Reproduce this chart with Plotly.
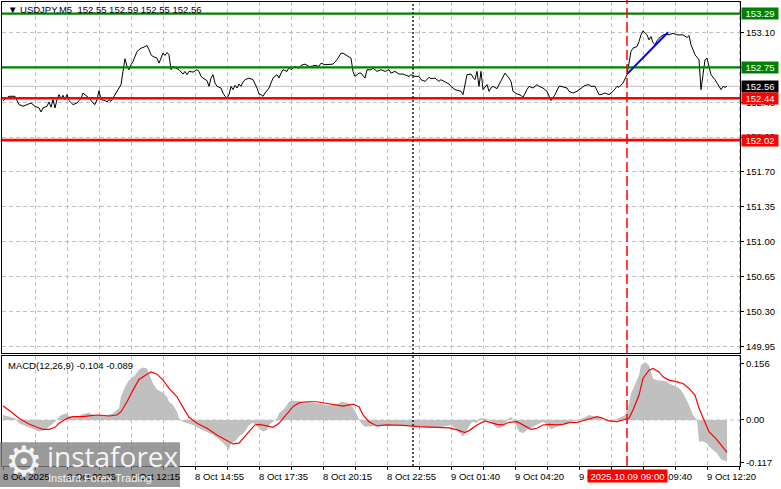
import plotly.graph_objects as go

W, H = 781, 489

# ---------------- data ----------------
price_bar = [0, 3, 6, 8, 10, 13, 14, 16, 18, 19, 20, 22, 23, 24, 25, 26, 27, 28, 29, 30, 31, 32, 33, 35, 37, 38, 39, 40,
             42, 43, 45, 46, 47, 48, 49, 51, 52, 53, 54, 56, 58, 59, 60, 61, 62, 63, 64, 65, 67, 68, 69, 70, 72, 73, 74,
             75, 77, 78, 79, 80, 81, 82, 83, 84, 85, 87, 88, 90, 91, 92, 93, 95, 97, 98, 99, 100, 102, 103, 104, 105,
             106, 107, 109, 110, 111, 112, 113, 114, 115, 116, 117, 118, 119, 120,
             121, 123, 125, 127, 128, 129, 130, 131, 133, 134, 135, 137, 138, 139, 140, 142, 143, 144, 146, 148, 149,
             151, 153, 154, 156, 158, 159, 161, 163, 165, 167, 169, 170, 172, 174, 175, 176, 178, 179, 181, 182, 184,
             185, 187, 189, 191, 193, 194, 196, 198, 200, 203, 204, 206, 208, 209, 211, 213, 214, 216, 218, 219, 221,
             223, 224, 226, 229, 230, 232, 234, 235, 236, 237, 238, 239, 240, 242, 243,
             244, 245, 247, 248, 251, 253, 254, 255, 257, 259, 260, 262, 263, 265, 267, 268, 270, 272, 273, 274, 276,
             278, 279, 282, 283, 285, 287, 289, 291, 293, 294, 296, 298, 299, 301, 303, 305, 307, 308, 310, 312, 313,
             314, 315, 317, 318, 319, 320, 322, 323, 324, 325, 326, 327, 328, 330, 332, 333, 335, 337, 338, 340, 342,
             343, 344, 346, 348, 349, 350, 351, 352, 353, 354, 356, 358, 359, 360, 361, 362]
price_close = [152.417, 152.46, 152.46, 152.377, 152.36, 152.383, 152.393, 152.36, 152.343, 152.303, 152.343, 152.36,
               152.403, 152.35, 152.427, 152.343, 152.427, 152.477, 152.437, 152.47, 152.427, 152.477, 152.417,
               152.377, 152.393, 152.417, 152.437, 152.493, 152.46, 152.443, 152.393, 152.377, 152.427, 152.517,
               152.427, 152.417, 152.403, 152.427, 152.41, 152.477, 152.543, 152.577, 152.71, 152.837, 152.76,
               152.727, 152.777, 152.81, 152.91, 152.927, 152.943, 152.95, 152.97, 152.927, 152.877, 152.86, 152.843,
               152.793, 152.843, 152.893, 152.87, 152.9, 152.877, 152.727, 152.76, 152.743, 152.727, 152.683, 152.71,
               152.677, 152.71, 152.703, 152.727, 152.71, 152.66, 152.643, 152.617, 152.56, 152.643, 152.677,
               152.593, 152.56, 152.543, 152.493, 152.46, 152.443, 152.477, 152.56, 152.527, 152.57, 152.543,
               152.583, 152.56, 152.603,
               152.627, 152.643, 152.627, 152.543, 152.483, 152.477, 152.46, 152.493, 152.543, 152.593, 152.643,
               152.677, 152.643, 152.693, 152.727, 152.71, 152.75, 152.727, 152.76, 152.743, 152.77, 152.783, 152.76,
               152.76, 152.77, 152.76, 152.793, 152.777, 152.783, 152.783, 152.827, 152.893, 152.893, 152.87, 152.843,
               152.71, 152.66, 152.693, 152.693, 152.643, 152.727, 152.727, 152.743, 152.71, 152.727, 152.71, 152.727,
               152.693, 152.71, 152.683, 152.683, 152.66, 152.677, 152.66, 152.66, 152.627, 152.61, 152.65, 152.637,
               152.643, 152.61, 152.627, 152.603, 152.583, 152.56, 152.527, 152.51, 152.477, 152.677, 152.683, 152.65,
               152.627, 152.71, 152.56, 152.71, 152.527, 152.577, 152.51,
               152.543, 152.56, 152.537, 152.577, 152.693, 152.643, 152.61, 152.51, 152.483, 152.47, 152.45, 152.527,
               152.56, 152.543, 152.577, 152.56, 152.543, 152.51, 152.46, 152.417, 152.477, 152.56, 152.56, 152.543,
               152.51, 152.493, 152.51, 152.543, 152.57, 152.577, 152.56, 152.56, 152.477, 152.477, 152.493, 152.477,
               152.51, 152.56, 152.55, 152.593, 152.677, 152.793, 152.91, 152.943, 152.96, 153.01, 153.077, 153.117,
               153.077, 153.027, 153.06, 153.0, 152.977, 153.017, 153.043, 153.077, 153.083, 153.077, 153.093,
               153.077, 153.077, 153.077, 153.05, 153.07, 152.977, 152.877, 152.827, 152.527, 152.677, 152.827,
               152.843, 152.743, 152.677, 152.627, 152.56, 152.527, 152.56, 152.55, 152.56]

macd_bar = [0, 6, 8, 12, 15, 18, 20, 22, 24, 26, 28, 29, 32, 33, 37, 40, 43, 45, 48, 52, 55, 58, 59, 61, 63, 66, 68,
            70, 72, 73, 75, 77, 78, 80, 82, 83, 85, 87, 88, 90, 92, 95, 98, 102, 105, 108, 111, 113, 114, 116, 118,
            121, 123, 125, 127, 128, 130, 132, 133, 135, 137, 138, 140, 142, 143, 145, 148, 152, 155, 158, 162, 165,
            168, 169, 172, 174, 176, 178, 179, 181, 184, 187, 194, 200, 207, 214, 220, 224, 226, 228, 230, 232, 234,
            235, 237, 238, 241, 244, 246, 248, 250, 253, 254, 256, 258, 260, 263, 265, 268, 270, 272, 274, 277, 279,
            283, 285, 288, 291, 293, 297, 300, 303, 305, 308, 311, 313, 314, 316, 318, 319, 321, 323, 324, 325, 327,
            328, 330, 332, 333, 335, 337, 339, 341, 343, 345, 347, 348, 350, 352, 353, 355, 357, 359, 362]
macd_hist = [0.0137, 0.0046, -0.0091, -0.0183, -0.0256, -0.032, -0.0292, -0.0228, -0.0137, -0.0046, 0.0073, 0.0137,
             0.0183, 0.011, 0.0091, 0.0164, 0.0201, 0.0137, 0.0137, 0.0137, 0.0183, 0.032, 0.0639, 0.0913, 0.1096,
             0.1233, 0.1388, 0.1443, 0.1416, 0.1279, 0.1005, 0.084, 0.0804, 0.0749, 0.0639, 0.0502, 0.0411, 0.0228,
             0.0046, -0.0046, -0.0091, -0.0137, -0.0228, -0.032, -0.0411, -0.053, -0.0685, -0.0822, -0.0639,
             -0.0594, -0.0457, -0.032, -0.0137, -0.0073, -0.0183, -0.0228, -0.032, -0.0274, -0.0137, -0.0046, 0.0046,
             0.0183, 0.0274, 0.0411, 0.0502, 0.053, 0.0521, 0.0502, 0.0475, 0.0457, 0.0411, 0.0411, 0.0457, 0.0502,
             0.0475, 0.0411, 0.0256, 0.0046, -0.0091, -0.0183, -0.0164, -0.0164, -0.0137, -0.0137, -0.0164, -0.0228,
             -0.0183, -0.0137, -0.0228, -0.0347, -0.0457, -0.0274, -0.0091, -0.0046, -0.0091, 0.0046, 0.0046,
             -0.0046, -0.0183, -0.0228, -0.0183, 0.0046, 0.0091, -0.0091, -0.032, -0.0365, -0.0228, -0.0183, -0.0091,
             -0.0046, -0.0137, -0.0256, -0.0183, -0.0119, -0.0091, -0.0046, 0.0, 0.0073, 0.0137, 0.0091, 0.0,
             -0.0046, 0.0, 0.0046, 0.0137, 0.0457, 0.0731, 0.0959, 0.1233, 0.1507, 0.1598, 0.1507, 0.1324, 0.1142,
             0.1096, 0.1096, 0.1078, 0.105, 0.1005, 0.0959, 0.0913, 0.0822, 0.0639, 0.0411, 0.0137, 0.0, -0.0594,
             -0.0594, -0.0639, -0.0731, -0.0822, -0.0913, -0.1078, -0.1142]

signal_bar = [0, 4, 8, 13, 17, 20, 23, 26, 28, 32, 35, 40, 45, 48, 53, 57, 59, 62, 65, 68, 72, 74, 77, 80, 83, 87,
              90, 93, 97, 102, 107, 112, 115, 118, 120, 123, 126, 128, 132, 135, 138, 142, 145, 148, 152, 157, 162,
              167, 170, 175, 178, 180, 183, 187, 192, 200, 208, 217, 223, 227, 231, 233, 237, 241, 243, 247, 250,
              253, 257, 260, 264, 267, 270, 273, 277, 280, 283, 287, 290, 293, 297, 300, 303, 307, 310, 313, 315,
              318, 320, 323, 325, 328, 330, 333, 337, 340, 343, 346, 348, 351, 353, 357, 360, 362]
signal_val = [0.0384, 0.0228, 0.0046, -0.011, -0.0201, -0.0256, -0.0256, -0.0201, -0.0091, 0.0046, 0.0091, 0.0091,
              0.0128, 0.0137, 0.011, 0.0137, 0.0228, 0.0502, 0.0822, 0.1114, 0.126, 0.1324, 0.126, 0.1096, 0.0868,
              0.0639, 0.0347, 0.0073, -0.0091, -0.0228, -0.0411, -0.0566, -0.0658, -0.0639, -0.0502, -0.032, -0.0137,
              -0.0119, -0.0164, -0.0201, -0.0091, 0.0183, 0.0365, 0.0475, 0.0502, 0.0502, 0.0457, 0.0393, 0.0384,
              0.0438, 0.0365, 0.0137, -0.0046, -0.0164, -0.0137, -0.0146, -0.0183, -0.0201, -0.0219, -0.0274,
              -0.0347, -0.0292, -0.0137, -0.0027, -0.0064, -0.0119, -0.0137, -0.0064, -0.0046, -0.0137, -0.0256,
              -0.0228, -0.0137, -0.0119, -0.0137, -0.0119, -0.0073, -0.0064, -0.0027, 0.0027, 0.0091, 0.0046,
              -0.0027, -0.0046, 0.0, 0.0046, 0.0274, 0.0685, 0.1142, 0.137, 0.1416, 0.1324, 0.1187, 0.1096, 0.105,
              0.1005, 0.0868, 0.0685, 0.032, -0.0046, -0.032, -0.0548, -0.0758, -0.089]

green_levels = [153.29, 152.75]
red_levels = [152.44, 152.02]
last_price = 152.56
trend_bar = [312, 332.5]
trend_price = [152.683, 153.103]
marker_bar = 312          # 2025.10.09 09:00
day_sep_bar = 205         # 9 Oct 00:00

time_tick_bars = [0, 32, 64, 96, 128, 160, 192, 224, 256, 288, 320, 352]
time_tick_labels = ["8 Oct 2025", "8 Oct 09:35", "8 Oct 12:15", "8 Oct 14:55", "8 Oct 17:35", "8 Oct 20:15",
                    "8 Oct 22:55", "9 Oct 01:40", "9 Oct 04:20", "9 Oct 07:00", "9 Oct 09:40", "9 Oct 12:20"]
grid_bars = list(range(0, 369, 16))
price_ticks = [149.95, 150.30, 150.65, 151.00, 151.35, 151.70, 152.05, 152.40, 152.75, 153.10]
macd_ticks = [0.156, 0.0, -0.117]
macd_ticktext = ["0.156", "0.00", "-0.117"]

header_text = "USDJPY,M5  152.55 152.59 152.55 152.56"
macd_text = "MACD(12,26,9) -0.104 -0.089"
marker_text = "2025.10.09 09:00"

# ---------------- layout geometry (pixels) ----------------
XL, XR = 2, 740
PT, PB = 2, 354
MT, MB = 357, 468
FONT = "Liberation Sans, Arial, sans-serif"
GRID_DASH = "4px,3px"


def fx(px):
    return px / W


def fy(px):
    return 1 - px / H


fig = go.Figure()

fig.add_trace(go.Scatter(x=macd_bar, y=macd_hist, xaxis="x2", yaxis="y2", mode="lines",
                         line=dict(width=0, color="#c0c0c0"), fill="tozeroy", fillcolor="#c0c0c0",
                         hoverinfo="skip"))
fig.add_trace(go.Scatter(x=signal_bar, y=signal_val, xaxis="x2", yaxis="y2", mode="lines",
                         line=dict(width=1.2, color="#ff0000"), hoverinfo="skip"))
fig.add_trace(go.Scatter(x=price_bar, y=price_close, xaxis="x", yaxis="y", mode="lines",
                         line=dict(width=1, color="#000000"), hoverinfo="skip"))

X0, X1 = -0.5, 368.5
shapes = []
# current price line
shapes.append(dict(type="line", xref="x", yref="y", x0=X0, x1=X1, y0=last_price, y1=last_price,
                   line=dict(color="#c0c0c0", width=1), layer="below"))
for lv in green_levels:
    shapes.append(dict(type="line", xref="x", yref="y", x0=X0, x1=X1, y0=lv, y1=lv,
                       line=dict(color="#008000", width=2.2), layer="above"))
for lv in red_levels:
    shapes.append(dict(type="line", xref="x", yref="y", x0=X0, x1=X1, y0=lv, y1=lv,
                       line=dict(color="#ff0000", width=2.6), layer="above"))
# trend line
shapes.append(dict(type="line", xref="x", yref="y", x0=trend_bar[0], x1=trend_bar[1],
                   y0=trend_price[0], y1=trend_price[1], line=dict(color="#0000ff", width=2), layer="above"))
# MACD zero level
shapes.append(dict(type="line", xref="x2", yref="y2", x0=X0, x1=X1, y0=0, y1=0,
                   line=dict(color="#c0c0c0", width=1, dash=GRID_DASH), layer="below"))
# vertical markers
shapes.append(dict(type="line", xref="x", yref="paper", x0=day_sep_bar, x1=day_sep_bar, y0=fy(MB), y1=fy(PT),
                   line=dict(color="#000000", width=1.3, dash="2px,2px"), layer="above"))
shapes.append(dict(type="line", xref="x", yref="paper", x0=marker_bar, x1=marker_bar, y0=fy(MB), y1=1,
                   line=dict(color="#ff0000", width=1.5, dash="10px,4px"), layer="above"))
# watermark box
shapes.append(dict(type="rect", xref="paper", yref="paper", x0=0, x1=fx(180), y0=0, y1=fy(444),
                   fillcolor="rgba(125,125,125,0.78)", line=dict(width=0), layer="above"))

annotations = []
# level price boxes
for lv, col in [(green_levels[0], "#008000"), (green_levels[1], "#008000"), (last_price, "#000000"),
                (red_levels[0], "#ff0000"), (red_levels[1], "#ff0000")]:
    annotations.append(dict(xref="paper", yref="y", x=fx(741), y=lv, xanchor="left", yanchor="middle",
                            text=f"{lv:.2f}", showarrow=False, bgcolor=col, width=36, height=11,
                            borderpad=0, font=dict(family=FONT, size=9.5, color="#ffffff")))
# time labels
for b, t in zip(time_tick_bars, time_tick_labels):
    annotations.append(dict(xref="x2", yref="paper", x=b, y=fy(478), xanchor="left", yanchor="middle",
                            text=t, showarrow=False, xshift=-2,
                            font=dict(family=FONT, size=9.5, color="#000000")))
annotations.append(dict(xref="x2", yref="paper", x=marker_bar, y=fy(478), xanchor="center", yanchor="middle",
                        text=marker_text, showarrow=False, bgcolor="#ff0000", width=79, height=12, borderpad=0,
                        font=dict(family=FONT, size=9.5, color="#ffffff")))
# header & indicator label
annotations.append(dict(xref="paper", yref="paper", x=fx(6), y=fy(10), xanchor="left", yanchor="middle",
                        text="▼ " + header_text, showarrow=False,
                        font=dict(family=FONT, size=9.5, color="#000000")))
annotations.append(dict(xref="paper", yref="paper", x=fx(6), y=fy(367), xanchor="left", yanchor="middle",
                        text=macd_text, showarrow=False,
                        font=dict(family=FONT, size=9.5, color="#000000")))
# watermark
annotations.append(dict(xref="paper", yref="paper", x=fx(24), y=fy(463), xanchor="center", yanchor="middle",
                        text="⚙", showarrow=False,
                        font=dict(family="DejaVu Sans", size=42, color="rgba(255,255,255,0.9)")))
annotations.append(dict(xref="paper", yref="paper", x=fx(45), y=fy(458), xanchor="left", yanchor="middle",
                        text="instaforex", showarrow=False,
                        font=dict(family="Open Sans, sans-serif", size=28, color="rgba(255,255,255,0.92)")))
annotations.append(dict(xref="paper", yref="paper", x=fx(46), y=fy(480), xanchor="left", yanchor="middle",
                        text="Instant Forex Trading", showarrow=False,
                        font=dict(family=FONT, size=11, color="rgba(255,255,255,0.9)")))

axis_common = dict(showline=True, linecolor="#000000", linewidth=1, mirror=True, zeroline=False,
                   fixedrange=True)

fig.update_layout(
    width=W, height=H,
    autosize=False,
    margin=dict(l=0, r=0, t=0, b=0, pad=0),
    paper_bgcolor="#ffffff", plot_bgcolor="#ffffff",
    showlegend=False,
    shapes=shapes, annotations=annotations,
    xaxis=dict(domain=[fx(XL), fx(XR)], range=[X0, X1], anchor="y", tickvals=grid_bars,
               showticklabels=False, ticks="", showgrid=True, gridcolor="#c0c0c0", griddash=GRID_DASH,
               gridwidth=1, **axis_common),
    yaxis=dict(domain=[fy(PB), fy(PT)], range=[149.887, 153.407], anchor="x", side="right",
               tickvals=price_ticks, ticktext=[f"{v:.2f}" for v in price_ticks], ticks="outside", ticklen=3,
               tickcolor="#000000", showgrid=True, gridcolor="#c0c0c0", griddash=GRID_DASH, gridwidth=1,
               tickfont=dict(family=FONT, size=9.5, color="#000000"), **axis_common),
    xaxis2=dict(domain=[fx(XL), fx(XR)], range=[X0, X1], anchor="y2", tickvals=grid_bars,
                showticklabels=False, ticks="outside", ticklen=3, tickcolor="#000000",
                showgrid=True, gridcolor="#c0c0c0", griddash=GRID_DASH, gridwidth=1,
                **axis_common),
    yaxis2=dict(domain=[fy(MB), fy(MT)], range=[-0.1268, 0.1773], anchor="x2", side="right",
                tickvals=macd_ticks, ticktext=macd_ticktext, ticks="outside", ticklen=3, tickcolor="#000000",
                showgrid=False, tickfont=dict(family=FONT, size=9.5, color="#000000"), **axis_common),
)

fig.write_html("out.html", config={"displayModeBar": False},
               post_script="document.body.style.margin='0';document.body.style.overflow='hidden';")
